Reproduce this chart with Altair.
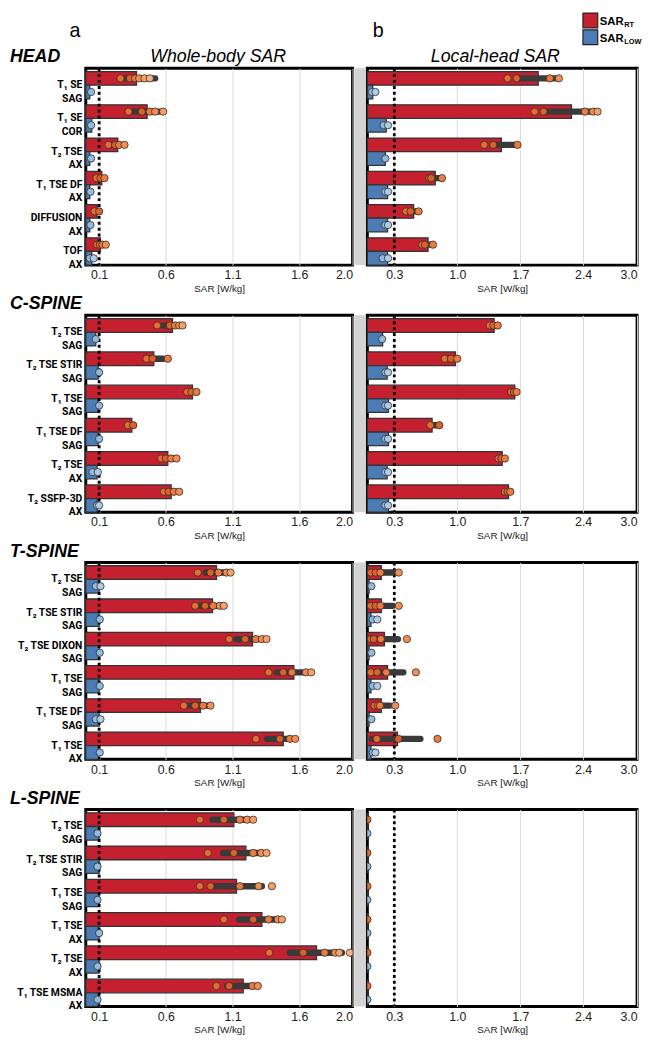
import altair as alt
import pandas as pd

FONT = "Liberation Sans"
LABEL_FONT = "Roboto"
RED = "#c4202f"
BLUE = "#4b7cb5"
RT_SHADES = ["#e46d33", "#d9622b", "#ea7c42", "#f08f55", "#f3a06a", "#f6b184"]
LOW_SHADES = ["#8fbbe0", "#a9cdeb"]

REGIONS = ["HEAD", "C-SPINE", "T-SPINE", "L-SPINE"]
PANEL_TITLES = ["Whole-body SAR", "Local-head SAR"]
PANEL_LETTERS = ["a", "b"]
LEGEND_KINDS = ["RT", "LOW"]
AXIS_TITLE = "SAR [W/kg]"

WB_DOMAIN = [0, 2.0]
WB_TICKS = [0.1, 0.6, 1.1, 1.6, 2.0]
WB_LIMIT = 0.1
LH_DOMAIN = [0, 3.0]
LH_TICKS = [0.3, 1.0, 1.7, 2.4, 3.0]
LH_LIMIT = 0.3

# ---------------- HEAD ----------------
HEAD_LABELS = ["T₁ SE|SAG", "T₁ SE|COR", "T₂ TSE|AX", "T₁ TSE DF|AX", "DIFFUSION|AX", "TOF|AX"]
HEAD_WB_RT = [0.38, 0.46, 0.24, 0.12, 0.085, 0.11]
HEAD_WB_RT_ERR = [(0.30, 0.52), (0.36, 0.55), (0.18, 0.29), (0.08, 0.14), (0.07, 0.10), (0.09, 0.14)]
HEAD_WB_RT_PTS = [[0.26, 0.33, 0.37, 0.40, 0.44, 0.48], [0.32, 0.42, 0.48, 0.52, 0.58],
                  [0.17, 0.22, 0.25, 0.29], [0.08, 0.11, 0.14], [0.065, 0.10], [0.085, 0.105, 0.125, 0.15]]
HEAD_WB_LOW = [0.03, 0.045, 0.03, 0.03, 0.03, 0.045]
HEAD_WB_LOW_PTS = [[0.04], [0.04], [0.04], [0.035], [0.035], [0.03, 0.06]]

HEAD_LH_RT = [1.90, 2.27, 1.49, 0.755, 0.515, 0.675]
HEAD_LH_RT_ERR = [(1.67, 2.11), (1.98, 2.54), (1.40, 1.67), (0.71, 0.83), (0.45, 0.57), (0.62, 0.72)]
HEAD_LH_RT_PTS = [[1.56, 1.66, 2.03, 2.13], [1.86, 1.96, 2.42, 2.51, 2.56], [1.30, 1.40, 1.67],
                  [0.69, 0.71, 0.83], [0.43, 0.48, 0.57], [0.61, 0.64, 0.73]]
HEAD_LH_LOW = [0.06, 0.21, 0.20, 0.225, 0.225, 0.225]
HEAD_LH_LOW_PTS = [[0.05, 0.09], [0.18, 0.23], [0.20], [0.20, 0.23], [0.20, 0.23], [0.17, 0.23]]

# ---------------- C-SPINE ----------------
C_LABELS = ["T₂ TSE|SAG", "T₂ TSE STIR|SAG", "T₁ TSE|SAG", "T₁ TSE DF|SAG", "T₂ TSE|AX", "T₂ SSFP-3D|AX"]
C_WB_RT = [0.65, 0.51, 0.80, 0.345, 0.615, 0.64]
C_WB_RT_ERR = [(0.58, 0.70), (0.47, 0.58), (0.76, 0.83), (0.31, 0.36), (0.57, 0.67), (0.59, 0.70)]
C_WB_RT_PTS = [[0.535, 0.63, 0.67, 0.70, 0.725], [0.455, 0.50, 0.615], [0.76, 0.79, 0.83],
               [0.315, 0.355], [0.565, 0.60, 0.64, 0.68], [0.585, 0.62, 0.66, 0.70]]
C_WB_LOW = [0.075, 0.093, 0.093, 0.093, 0.085, 0.085]
C_WB_LOW_PTS = [[0.075], [0.10], [0.10], [0.10], [0.05, 0.09], [0.085, 0.10]]

C_LH_RT = [1.41, 0.98, 1.64, 0.72, 1.50, 1.57]
C_LH_RT_ERR = [(1.36, 1.45), (0.86, 1.0), (1.60, 1.66), (0.70, 0.80), (1.46, 1.53), (1.53, 1.59)]
C_LH_RT_PTS = [[1.36, 1.40, 1.45], [0.86, 0.93, 1.00], [1.60, 1.63, 1.66], [0.70, 0.80],
               [1.46, 1.49, 1.53], [1.53, 1.56, 1.59]]
C_LH_LOW = [0.17, 0.22, 0.235, 0.235, 0.22, 0.235]
C_LH_LOW_PTS = [[0.165], [0.20, 0.23], [0.20, 0.23], [0.20, 0.23], [0.20, 0.23], [0.20, 0.23]]

# ---------------- T-SPINE ----------------
T_LABELS = ["T₂ TSE|SAG", "T₂ TSE STIR|SAG", "T₂ TSE DIXON|SAG", "T₁ TSE|SAG", "T₁ TSE DF|SAG", "T₁ TSE|AX"]
T_WB_RT = [0.98, 0.95, 1.25, 1.56, 0.86, 1.48]
T_WB_RT_ERR = [(0.90, 1.07), (0.86, 1.01), (1.13, 1.33), (1.43, 1.66), (0.78, 0.92), (1.36, 1.56)]
T_WB_RT_PTS = [[0.84, 0.935, 0.995, 1.055, 1.085], [0.82, 0.895, 0.955, 1.005, 1.035],
               [1.075, 1.195, 1.275, 1.32, 1.355], [1.37, 1.48, 1.545, 1.65, 1.69],
               [0.735, 0.82, 0.88, 0.935], [1.275, 1.455, 1.53, 1.57]]
T_WB_LOW = [0.10, 0.10, 0.10, 0.10, 0.10, 0.10]
T_WB_LOW_PTS = [[0.075, 0.11], [0.105], [0.105], [0.105], [0.075, 0.11], [0.105]]

T_LH_RT = [0.155, 0.155, 0.19, 0.225, 0.155, 0.335]
T_LH_RT_ERR = [(0.05, 0.28), (0.05, 0.28), (0.05, 0.34), (0.05, 0.40), (0.08, 0.25), (0.05, 0.59)]
T_LH_RT_PTS = [[0.04, 0.09, 0.145, 0.35], [0.04, 0.09, 0.145, 0.35], [0.04, 0.07, 0.15, 0.44],
               [0.04, 0.11, 0.21, 0.54], [0.08, 0.115, 0.14, 0.31], [0.105, 0.345, 0.78]]
T_LH_LOW = [0.02, 0.04, 0.02, 0.04, 0.02, 0.04]
T_LH_LOW_PTS = [[0.045], [0.06, 0.11], [0.045], [0.06, 0.11], [0.045], [0.06, 0.09]]

# ---------------- L-SPINE ----------------
L_LABELS = ["T₂ TSE|SAG", "T₂ TSE STIR|SAG", "T₁ TSE|SAG", "T₁ TSE|AX", "T₂ TSE|AX", "T₁ TSE MSMA|AX"]
L_WB_RT = [1.11, 1.20, 1.13, 1.32, 1.73, 1.18]
L_WB_RT_ERR = [(0.95, 1.22), (1.03, 1.33), (0.97, 1.32), (1.15, 1.46), (1.53, 1.92), (1.06, 1.29)]
L_WB_RT_PTS = [[0.855, 1.035, 1.155, 1.21, 1.255], [0.915, 1.11, 1.255, 1.315, 1.355],
               [0.855, 0.935, 1.155, 1.295, 1.395], [1.035, 1.255, 1.37, 1.44, 1.47],
               [1.375, 1.63, 1.79, 1.87, 1.90, 1.98], [0.98, 1.075, 1.25, 1.29]]
L_WB_LOW = [0.10, 0.10, 0.10, 0.10, 0.10, 0.10]
L_WB_LOW_PTS = [[0.088], [0.088], [0.088], [0.10], [0.088], [0.088]]

L_LH_RT = [0, 0, 0, 0, 0, 0]
L_LH_RT_ERR = []
L_LH_RT_PTS = [[0], [0], [0], [0], [0], [0]]
L_LH_LOW = [0, 0, 0, 0, 0, 0]
L_LH_LOW_PTS = [[0], [0], [0], [0], [0], [0]]

ROWS = [
    (HEAD_LABELS,
     (HEAD_WB_RT, HEAD_WB_RT_ERR, HEAD_WB_RT_PTS, HEAD_WB_LOW, HEAD_WB_LOW_PTS),
     (HEAD_LH_RT, HEAD_LH_RT_ERR, HEAD_LH_RT_PTS, HEAD_LH_LOW, HEAD_LH_LOW_PTS)),
    (C_LABELS,
     (C_WB_RT, C_WB_RT_ERR, C_WB_RT_PTS, C_WB_LOW, C_WB_LOW_PTS),
     (C_LH_RT, C_LH_RT_ERR, C_LH_RT_PTS, C_LH_LOW, C_LH_LOW_PTS)),
    (T_LABELS,
     (T_WB_RT, T_WB_RT_ERR, T_WB_RT_PTS, T_WB_LOW, T_WB_LOW_PTS),
     (T_LH_RT, T_LH_RT_ERR, T_LH_RT_PTS, T_LH_LOW, T_LH_LOW_PTS)),
    (L_LABELS,
     (L_WB_RT, L_WB_RT_ERR, L_WB_RT_PTS, L_WB_LOW, L_WB_LOW_PTS),
     (L_LH_RT, L_LH_RT_ERR, L_LH_RT_PTS, L_LH_LOW, L_LH_LOW_PTS)),
]

LEFT_W, GRAY_W, RIGHT_W, H = 271, 11, 274, 200

SHADE_DOMAIN = [f"RT{i}" for i in range(len(RT_SHADES))] + [f"LOW{i}" for i in range(len(LOW_SHADES))]
SHADE_RANGE = RT_SHADES + LOW_SHADES


def text_layer(txt, x, y, size, weight="normal", style="normal", align="left", color="black"):
    return alt.Chart(pd.DataFrame({"t": [txt]})).mark_text(
        align=align, baseline="alphabetic", font=FONT, fontSize=size,
        fontWeight=weight, fontStyle=style, color=color
    ).encode(text="t:N", x=alt.value(x), y=alt.value(y))


def panel(labels, data, domain, ticks, limit, left):
    rt, rt_err, rt_pts, low, low_pts = data
    bars = pd.DataFrame({"label": labels * 2, "kind": ["RT"] * 6 + ["LOW"] * 6, "value": list(rt) + list(low)})
    err = pd.DataFrame({"label": [labels[i] for i in range(len(rt_err))], "kind": ["RT"] * len(rt_err),
                        "lo": [e[0] for e in rt_err], "hi": [e[1] for e in rt_err]})
    prow = []
    for i, lab in enumerate(labels):
        for j, v in enumerate(rt_pts[i]):
            prow.append({"label": lab, "kind": "RT", "value": v, "shade": f"RT{j % len(RT_SHADES)}"})
        for j, v in enumerate(low_pts[i]):
            prow.append({"label": lab, "kind": "LOW", "value": v, "shade": f"LOW{j % len(LOW_SHADES)}"})
    pts = pd.DataFrame(prow)

    yaxis = alt.Axis(title=None, labelExpr="split(datum.label, '|')", labelFont=LABEL_FONT, labelFontSize=10.5,
                     labelFontWeight="bold", labelColor="black", ticks=False, domain=False, labelPadding=4,
                     labelLineHeight=13.8, labelLimit=200, labelOverlap=False, grid=False) if left else None
    y = alt.Y("label:N", sort=labels, scale=alt.Scale(paddingInner=0.18, paddingOuter=0.05, align=1), axis=yaxis)
    yo = alt.YOffset("kind:N", sort=["RT", "LOW"], scale=alt.Scale(paddingInner=0, paddingOuter=0))
    xaxis = alt.Axis(values=ticks, format=".1f", title=AXIS_TITLE, grid=True, gridColor="#d9d9d9", gridWidth=1,
                     ticks=False, domain=False, labelFlush=True, labelPadding=4, labelFontSize=12.5,
                     labelColor="#222222", labelFont=FONT, titleFont=FONT, titleFontSize=10,
                     titleFontWeight="normal", titlePadding=2, titleColor="#222222")
    x = alt.X("value:Q", scale=alt.Scale(domain=domain, nice=False, zero=True), axis=xaxis)

    layers = [
        alt.Chart(bars).mark_bar(stroke="#333333", strokeWidth=1.3).encode(
            x=x, y=y, yOffset=yo,
            color=alt.Color("kind:N", scale=alt.Scale(domain=["RT", "LOW"], range=[RED, BLUE]), legend=None)),
        alt.Chart(pd.DataFrame({"value": [limit]})).mark_rule(
            color="black", strokeWidth=2.8, strokeDash=[3, 3]).encode(x=alt.X("value:Q")),
    ]
    if len(err):
        layers.append(alt.Chart(err).mark_rule(color="#3a3a3a", strokeWidth=6.5, strokeCap="round").encode(
            x=alt.X("lo:Q"), x2="hi:Q", y=y, yOffset=yo))
    layers.append(alt.Chart(pts).mark_circle(size=55, opacity=1, stroke="#3a2a22", strokeWidth=0.8, clip=True).encode(
        x=alt.X("value:Q"), y=y, yOffset=yo,
        fill=alt.Fill("shade:N", scale=alt.Scale(domain=SHADE_DOMAIN, range=SHADE_RANGE), legend=None)))
    return layers


cells = []
for r, (labels, wb, lh) in enumerate(ROWS):
    left_layers = panel(labels, wb, WB_DOMAIN, WB_TICKS, WB_LIMIT, True)
    left_layers.append(text_layer(REGIONS[r], -77, -6, 18, "bold", "italic"))
    right_layers = panel(labels, lh, LH_DOMAIN, LH_TICKS, LH_LIMIT, False)
    if r == 0:
        left_layers.append(text_layer(PANEL_TITLES[0], LEFT_W / 2 - 1, -6, 18, style="italic", align="center"))
        left_layers.append(text_layer(PANEL_LETTERS[0], -11, -32, 20, align="center"))
        right_layers.append(text_layer(PANEL_TITLES[1], 130, -6, 18, style="italic", align="center"))
        right_layers.append(text_layer(PANEL_LETTERS[1], 11, -32, 20, align="center"))
        for k, kind in enumerate(LEGEND_KINDS):
            top = -56 + 17 * k
            right_layers.append(
                alt.Chart(pd.DataFrame({"kind": [kind]})).mark_rect(stroke="#222222", strokeWidth=1.2).encode(
                    x=alt.value(219), x2=alt.value(234), y=alt.value(top), y2=alt.value(top + 15),
                    color=alt.Color("kind:N", scale=alt.Scale(domain=["RT", "LOW"], range=[RED, BLUE]),
                                    legend=None)))
            right_layers.append(text_layer("SAR", 236, top + 12, 11.5, "bold"))
            right_layers.append(text_layer(kind, 261, top + 14, 7.5, "bold"))
    left = alt.layer(*left_layers).properties(width=LEFT_W, height=H)
    gray = alt.Chart(pd.DataFrame({"v": [0]})).mark_point(opacity=0, size=1).encode(
        x=alt.value(0), y=alt.value(1)).properties(
        width=GRAY_W, height=H, view=alt.ViewBackground(fill="#d3d3d3", stroke="#d3d3d3", strokeWidth=0))
    right = alt.layer(*right_layers).properties(width=RIGHT_W, height=H)
    cells += [left, gray, right]

chart = alt.concat(*cells, columns=3, spacing={"row": 51, "column": 2}, bounds="flush").properties(
    padding={"top": -6, "left": 0, "right": 0, "bottom": 0}
).configure(font=FONT).configure_view(stroke="black", strokeWidth=3)

chart.save("out.html", embed_options={"renderer": "svg", "actions": False})
